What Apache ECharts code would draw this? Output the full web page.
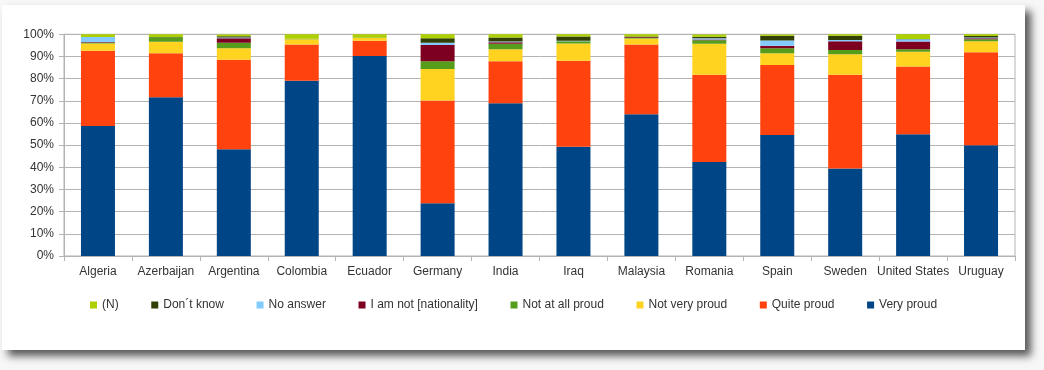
<!DOCTYPE html>
<html>
<head>
<meta charset="utf-8">
<script src="https://cdn.jsdelivr.net/npm/echarts@6/dist/echarts.min.js"></script>
<style>
html,body{margin:0;padding:0;background:#ffffff;}
#c{width:1044px;height:370px;}
</style>
</head>
<body>
<div id="c"></div>
<script>
const categories = ['Algeria','Azerbaijan','Argentina','Colombia','Ecuador','Germany','India','Iraq','Malaysia','Romania','Spain','Sweden','United States','Uruguay'];
const veryProud    = [58.6, 71.6, 48.1, 79.1, 90.2, 23.8, 68.9, 49.3, 63.9, 42.4, 54.6, 39.5, 54.9, 49.9];
const quiteProud   = [34.0, 19.8, 40.4, 16.3, 6.9, 46.3, 19.0, 38.8, 31.5, 39.4, 31.5, 42.2, 30.6, 42.0];
const notVeryProud = [3.2, 5.2, 5.2, 2.4, 1.2, 14.2, 5.4, 7.7, 2.7, 13.9, 5.3, 9.3, 6.6, 5.0];
const notAtAllProud= [0.5, 2.1, 2.5, 0.2, 0.3, 3.6, 2.4, 1.1, 0.2, 1.6, 2.3, 1.9, 1.2, 0.9];
const iAmNot       = [0.2, 0, 2.0, 0, 0, 7.3, 0.7, 0, 0.4, 0.3, 1.1, 4.0, 3.4, 0.4];
const noAnswer     = [2.3, 0, 0.4, 0, 0, 1.0, 0.3, 0.2, 0, 0.6, 2.4, 0.5, 1.1, 0.4];
const dontKnow     = [0, 0.1, 0.5, 0, 0, 2.0, 1.9, 1.9, 0.3, 0.7, 2.1, 2.0, 0.1, 0.6];
const nCount       = [1.2, 1.2, 0.8, 2.0, 1.4, 1.8, 1.4, 1.0, 1.0, 1.0, 0.6, 0.6, 2.1, 0.8];
const yTicks = [0,10,20,30,40,50,60,70,80,90,100];

const seriesDefs = [
  ['Very proud', veryProud, '#004586'],
  ['Quite proud', quiteProud, '#ff420e'],
  ['Not very proud', notVeryProud, '#ffd320'],
  ['Not at all proud', notAtAllProud, '#579d1c'],
  ['I am not [nationality]', iAmNot, '#7e0021'],
  ['No answer', noAnswer, '#83caff'],
  ['Don\u00b4t know', dontKnow, '#314004'],
  ['(N)', nCount, '#aecf00']
];

const chart = echarts.init(document.getElementById('c'), null, {renderer:'canvas'});
const font = 'Liberation Sans, Arial, sans-serif';
chart.setOption({
  animation:false,
  backgroundColor:'#f7f7f7',
  graphic:[{
    type:'rect', z:-10, silent:true,
    shape:{x:2,y:5,width:1023,height:345},
    style:{fill:'#ffffff', shadowBlur:8, shadowOffsetX:6, shadowOffsetY:6, shadowColor:'rgba(0,0,0,0.65)'}
  }],
  grid:{left:64, right:29, top:34.3, bottom:114, show:true, borderColor:'#b3b3b3', borderWidth:1, backgroundColor:'transparent'},
  legend:{
    data: seriesDefs.map(s=>s[0]).reverse(),
    left:85, top:294,
    icon:'rect', itemWidth:7, itemHeight:7, itemGap:32.6,
    textStyle:{fontFamily:font, fontSize:12, color:'#333333'}
  },
  xAxis:{
    type:'category', data:categories,
    axisLine:{lineStyle:{color:'#b3b3b3'}},
    axisTick:{show:true, length:5, lineStyle:{color:'#b3b3b3'}},
    axisLabel:{fontFamily:font, fontSize:12, color:'#333333', margin:10, interval:0}
  },
  yAxis:{
    type:'value', min:0, max:100, interval:10,
    axisLine:{show:true, lineStyle:{color:'#b3b3b3'}},
    axisTick:{show:true, length:5, lineStyle:{color:'#b3b3b3'}},
    splitLine:{lineStyle:{color:'#b3b3b3', width:1}},
    axisLabel:{fontFamily:font, fontSize:12, color:'#333333', margin:10,
      formatter: v => (yTicks.indexOf(v) >= 0 ? v + '%' : '')}
  },
  series: seriesDefs.map(s=>({
    name:s[0], type:'bar', stack:'all', data:s[1], barWidth:34,
    itemStyle:{color:s[2]}
  }))
});
</script>
</body>
</html>
